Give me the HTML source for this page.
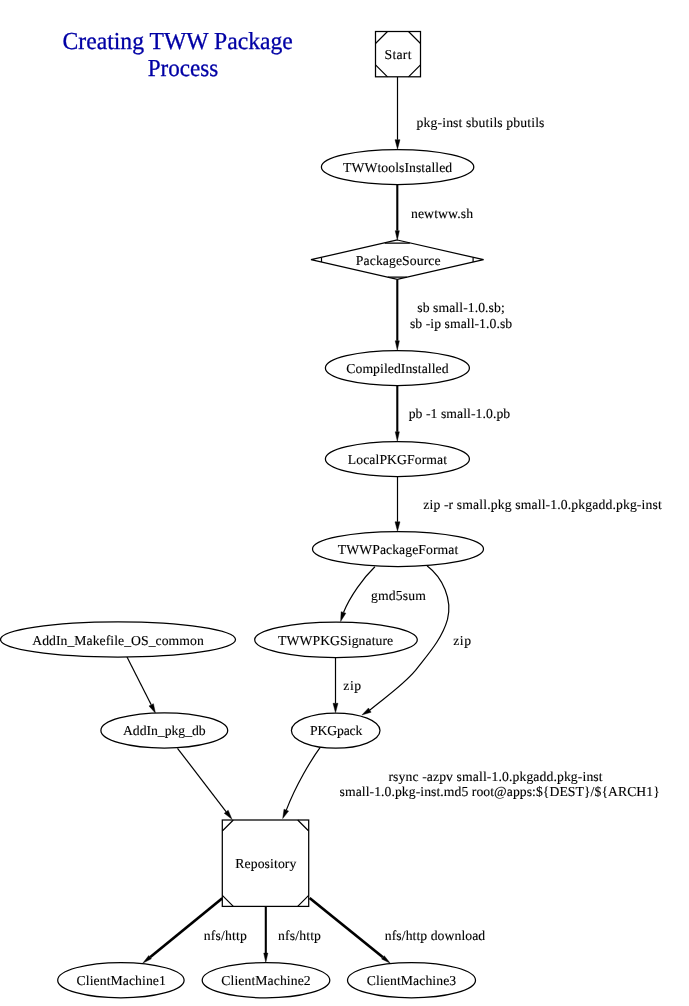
<!DOCTYPE html>
<html>
<head>
<meta charset="utf-8">
<title>Creating TWW Package Process</title>
<style>
html,body{margin:0;padding:0;background:#fff;}
body{width:689px;height:1006px;overflow:hidden;font-family:"Liberation Serif",serif;}
svg{display:block;position:absolute;left:0;top:0;will-change:transform;}
text{font-family:"Liberation Serif",serif;font-size:13.7px;fill:#000;stroke:#000;stroke-width:0.12px;text-rendering:geometricPrecision;}
.n{fill:#fff;stroke:#000;stroke-width:1.25;}
.l{fill:none;stroke:#000;stroke-width:1.2;}
.e{fill:none;stroke:#000;stroke-width:1.2;}
.b{fill:none;stroke:#000;stroke-width:2.1;}
.b3{fill:none;stroke:#000;stroke-width:2.7;}
.a{fill:#000;stroke:#000;stroke-width:0.4;}
.title{font-size:24.4px;fill:#0000a5;stroke:#0000a5;stroke-width:0.3px;}
</style>
</head>
<body>
<svg width="689" height="1006" viewBox="0 0 689 1006">
<rect x="0" y="0" width="689" height="1006" fill="#fff"/>
<text class="title" x="177.7" y="49.1" text-anchor="middle" textLength="230.2" lengthAdjust="spacingAndGlyphs">Creating TWW Package</text>
<text class="title" x="183" y="76.1" text-anchor="middle" textLength="70.5" lengthAdjust="spacingAndGlyphs">Process</text>
<g id="edges">
<path class="e" d="M397.5,77 L397.5,139.7"/>
<polygon class="a" points="395,139.7 397.5,149.2 400,139.7"/>
<path class="b" d="M397.3,184.5 L397.3,230.7"/>
<polygon class="a" points="395.2,230.7 397.3,240.2 399.4,230.7"/>
<path class="b" d="M397.3,279.4 L397.3,340.8"/>
<polygon class="a" points="395.2,340.8 397.3,350.3 399.4,340.8"/>
<path class="b" d="M397.3,385.5 L397.3,431.8"/>
<polygon class="a" points="395.2,431.8 397.3,441.3 399.4,431.8"/>
<path class="e" d="M397.5,476.5 L397.5,521.8"/>
<polygon class="a" points="395,521.8 397.5,531.3 400,521.8"/>
<path class="e" d="M374.9,566.8 C363.3,578 350.3,596 343.5,612.4"/>
<polygon class="a" points="341.12,611.64 340.6,621.5 345.88,613.16"/>
<path class="e" d="M427,565.8 C443,578 452.5,599.5 447.5,619.4 442,639.2 427.7,654.6 415.5,670.4 402.5,685.7 385.2,697.3 369.8,710.1"/>
<polygon class="a" points="368.48,707.98 361.9,715 371.12,712.22"/>
<path class="e" d="M335.5,657 L335.5,703.3"/>
<polygon class="a" points="333,703.3 335.5,712.8 338,703.3"/>
<path class="e" d="M127,657 L151.21,704.82"/>
<polygon class="a" points="148.98,705.95 155.5,713.3 153.44,703.7"/>
<path class="e" d="M177.5,748.3 L226.22,811.76"/>
<polygon class="a" points="224.23,813.29 232,819.3 228.2,810.24"/>
<path class="e" d="M320.2,747.4 C311,760 296,785 286.3,810.1"/>
<polygon class="a" points="284,809.13 282.7,818.6 288.6,811.07"/>
<path class="b3" d="M222.3,898.3 L150.06,957.2"/>
<polygon class="a" points="148.74,955.57 142.7,963.2 151.39,958.82"/>
<path class="b" d="M265.8,906.4 L265.8,953.1"/>
<polygon class="a" points="263.7,953.1 265.8,962.6 267.9,953.1"/>
<path class="b3" d="M309.6,898 L382.91,957.32"/>
<polygon class="a" points="381.59,958.96 390.3,963.3 384.24,955.69"/>
</g>
<g id="nodes">
<rect class="n" x="375.5" y="31.5" width="45" height="45.3"/>
<path class="l" d="M375.5,43.5 L387.5,31.5 M408.5,31.5 L420.5,43.5 M420.5,64.8 L408.5,76.8 M387.5,76.8 L375.5,64.8"/>
<text x="398" y="59.1" text-anchor="middle" textLength="26.89" lengthAdjust="spacing">Start</text>
<ellipse class="n" cx="397.6" cy="167" rx="76.2" ry="17.5"/>
<text x="397.6" y="172.1" text-anchor="middle" textLength="109.06" lengthAdjust="spacing">TWWtoolsInstalled</text>
<polygon class="n" points="397.3,240 483.6,259.7 397.3,279.4 311,259.7"/>
<path class="l" d="M384.8,243.2 L409.8,243.2 M473.1,257.4 L473.1,262 M406.8,277.2 L387.8,277.2 M321.5,262 L321.5,257.4"/>
<text x="398.2" y="265.1" text-anchor="middle" textLength="84.7" lengthAdjust="spacing">PackageSource</text>
<ellipse class="n" cx="397.4" cy="368" rx="72" ry="17.5"/>
<text x="397.4" y="373.1" text-anchor="middle" textLength="102.22" lengthAdjust="spacing">CompiledInstalled</text>
<ellipse class="n" cx="397.4" cy="459" rx="72" ry="17.5"/>
<text x="397.4" y="464.1" text-anchor="middle" textLength="99.18" lengthAdjust="spacing">LocalPKGFormat</text>
<ellipse class="n" cx="398" cy="549" rx="85.5" ry="17.5"/>
<text x="398" y="554.1" text-anchor="middle" textLength="120.45" lengthAdjust="spacing">TWWPackageFormat</text>
<ellipse class="n" cx="118" cy="639.5" rx="117.5" ry="17.6"/>
<text x="118" y="645.1" text-anchor="middle" textLength="171.47" lengthAdjust="spacing">AddIn_Makefile_OS_common</text>
<ellipse class="n" cx="336" cy="639.8" rx="81.3" ry="17.7"/>
<text x="335.6" y="645.1" text-anchor="middle" textLength="115.16" lengthAdjust="spacing">TWWPKGSignature</text>
<ellipse class="n" cx="164.3" cy="730.4" rx="63.4" ry="17.6"/>
<text x="164.3" y="735.1" text-anchor="middle" textLength="82.7" lengthAdjust="spacing">AddIn_pkg_db</text>
<ellipse class="n" cx="335.7" cy="730.6" rx="44.3" ry="17.6"/>
<text x="336.2" y="735.1" text-anchor="middle" textLength="52.3" lengthAdjust="spacing">PKGpack</text>
<rect class="n" x="222.3" y="820" width="86.4" height="86.4"/>
<path class="l" d="M222.3,831 L233.3,820 M297.7,820 L308.7,831 M308.7,895.4 L297.7,906.4 M233.3,906.4 L222.3,895.4"/>
<text x="265.8" y="868.1" text-anchor="middle" textLength="61.14" lengthAdjust="spacing">Repository</text>
<ellipse class="n" cx="120.9" cy="980.2" rx="63.2" ry="17.6"/>
<text x="121.2" y="985.1" text-anchor="middle" textLength="89.27" lengthAdjust="spacing">ClientMachine1</text>
<ellipse class="n" cx="266" cy="980.2" rx="63.8" ry="17.6"/>
<text x="266" y="985.1" text-anchor="middle" textLength="89.27" lengthAdjust="spacing">ClientMachine2</text>
<ellipse class="n" cx="411.5" cy="980.2" rx="64" ry="17.6"/>
<text x="411.5" y="985.1" text-anchor="middle" textLength="89.27" lengthAdjust="spacing">ClientMachine3</text>
</g>
<g id="labels">
<text x="480.5" y="127.1" text-anchor="middle" textLength="127.9" lengthAdjust="spacing">pkg-inst sbutils pbutils</text>
<text x="442" y="218.1" text-anchor="middle" textLength="62.15" lengthAdjust="spacing">newtww.sh</text>
<text x="461" y="312.1" text-anchor="middle" textLength="87.39" lengthAdjust="spacing">sb small-1.0.sb;</text>
<text x="461" y="328.1" text-anchor="middle" textLength="102.24" lengthAdjust="spacing">sb -ip small-1.0.sb</text>
<text x="459.4" y="418.1" text-anchor="middle" textLength="101.46" lengthAdjust="spacing">pb -1 small-1.0.pb</text>
<text x="542.5" y="509.1" text-anchor="middle" textLength="238.5" lengthAdjust="spacing">zip -r small.pkg small-1.0.pkgadd.pkg-inst</text>
<text x="398.4" y="600.1" text-anchor="middle" textLength="55.05" lengthAdjust="spacing">gmd5sum</text>
<text x="462.1" y="645.1" text-anchor="middle" textLength="17.74" lengthAdjust="spacing">zip</text>
<text x="352.2" y="690.1" text-anchor="middle" textLength="17.74" lengthAdjust="spacing">zip</text>
<text x="495.5" y="781.1" text-anchor="middle" textLength="214.2" lengthAdjust="spacing">rsync -azpv small-1.0.pkgadd.pkg-inst</text>
<text x="499.7" y="796.1" text-anchor="middle" textLength="320.2" lengthAdjust="spacing">small-1.0.pkg-inst.md5 root@apps:${DEST}/${ARCH1}</text>
<text x="225.3" y="940.1" text-anchor="middle" textLength="42.86" lengthAdjust="spacing">nfs/http</text>
<text x="299.5" y="940.1" text-anchor="middle" textLength="42.86" lengthAdjust="spacing">nfs/http</text>
<text x="435" y="940.1" text-anchor="middle" textLength="100.33" lengthAdjust="spacing">nfs/http download</text>
</g>
</svg>
</body>
</html>
